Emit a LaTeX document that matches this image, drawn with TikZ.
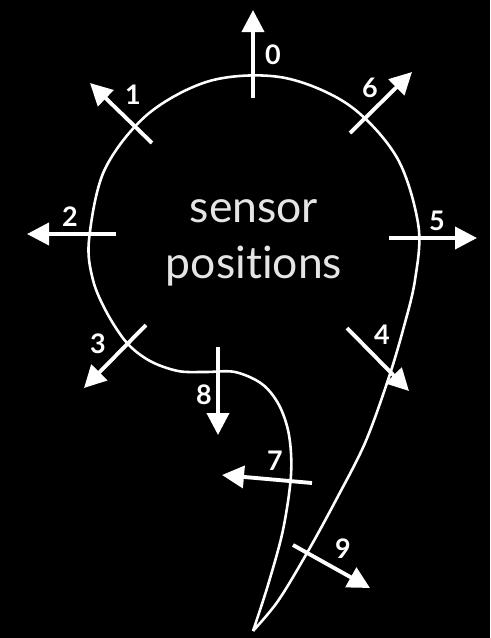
\documentclass[tikz,border=0pt]{standalone}
\usepackage{fontspec}
\setmainfont{Lato}[Ligatures=NoCommon]
\usetikzlibrary{arrows.meta}

\begin{document}
\begin{tikzpicture}[x=0.03cm,y=-0.03cm,
  outline/.style={white,line width=2.2pt,line join=round},
  sensor/.style={white,line width=3.3pt,-{Triangle[length=0.66cm,width=0.66cm]}},
  num/.style={white,font=\bfseries\fontsize{23}{23}\selectfont},
  caption/.style={white!90!black,anchor=base,font=\fontsize{38}{46}\selectfont}]
  % units are pixels of the original figure (y grows downwards)

  % background
  \fill[black] (0,0) rectangle (490,638);

  % body outline: round head, the tail closes in a sharp tip at the bottom
  \draw[outline] plot[smooth,tension=0.55] coordinates {
    (253,631) (268,585) (283,530) (291,475) (289,435)
    (279,405) (262,384) (235,372) (205,372) (178,371) (150,361)
    (127,343) (107,313) (93,280) (89,240) (104.5,170) (148,114) (211,80.6)
    (282.7,77.5) (348.7,104.9) (396.9,157.5) (418.4,225.6) (415,280)
    (403,330) (388,380) (365,443) (336,500) (307,553) (278,601)
    (253,631)};

  % sensors: start / tip of the arrow / label
  \foreach \n/\xa/\ya/\xb/\yb/\xl/\yl in {
      0/253/98/253/10/273/55,
      1/152/143/90/83/133/95,
      2/116/234/27/234/70/217,
      3/146/325/84/388/98/344,
      4/347/328/409/391/382/335,
      5/389/238/477/238/437/221,
      6/350/133/412/72/370/88,
      7/312/483/222/475/275/461,
      8/218/347/218/435/204/395,
      9/293/545/370/588/343/549} {
    \coordinate (s\n) at (\xa,\ya);
    \coordinate (t\n) at (\xb,\yb);
    \draw[sensor] (s\n) -- (t\n);
    \node[num] (lab\n) at (\xl,\yl) {\n};
  }

  % caption
  \node[caption] (cap1) at (254,222) {sensor};
  \node[caption] (cap2) at (254,278) {positions};
\end{tikzpicture}
\end{document}
